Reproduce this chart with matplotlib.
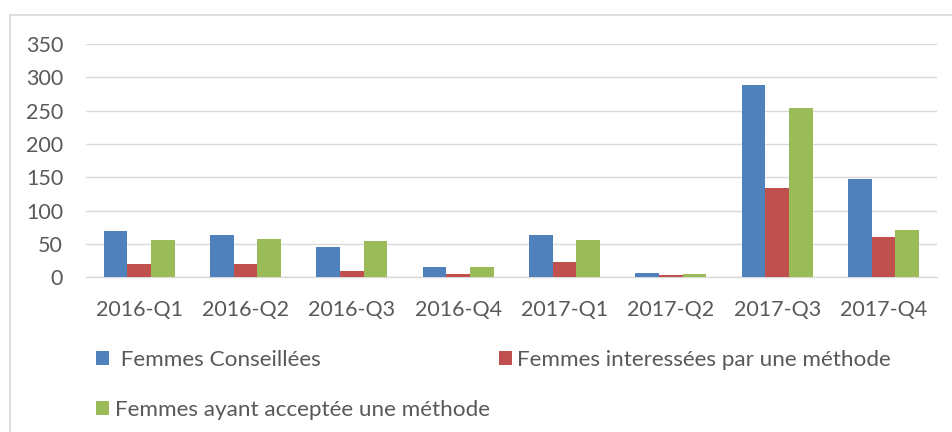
import matplotlib
matplotlib.use("Agg")
import matplotlib.pyplot as plt
import numpy as np
from matplotlib.lines import Line2D

categories = ["2016-Q1", "2016-Q2", "2016-Q3", "2016-Q4", "2017-Q1", "2017-Q2", "2017-Q3", "2017-Q4"]
conseillees = [69, 64, 46, 15, 63, 6, 289, 147]
interessees = [20, 20, 9, 5, 23, 4, 134, 61]
acceptees = [56, 58, 54, 15, 56, 5, 254, 71]
series_names = [" Femmes Conseillées", "Femmes interessées par une méthode", "Femmes ayant acceptée une méthode"]
colors = ["#4F81BD", "#C0504D", "#9BBB59"]
yticks = [0, 50, 100, 150, 200, 250, 300, 350]

plt.rcParams['font.family'] = ['Lato', 'DejaVu Sans']
fig = plt.figure(figsize=(9.52, 4.32), dpi=100)
ax = fig.add_axes([86/952, 1-277.3/432, (936.7-86)/952, (277.3-44)/432])

x = np.arange(len(categories))
w = 0.222
for i, (vals, name, c) in enumerate(zip([conseillees, interessees, acceptees], series_names, colors)):
    ax.bar(x + (i-1)*w, vals, width=w, color=c, label=name, zorder=3)

ax.set_xlim(-0.5, len(categories)-0.5)
ax.set_ylim(0, 350)
ax.set_yticks(yticks)
ax.set_xticks(x)
ax.set_xticklabels(categories)
ax.grid(axis='y', color='#d9d9d9', linewidth=1.0, zorder=0)
for s in ['top', 'right', 'left']:
    ax.spines[s].set_visible(False)
ax.spines['bottom'].set_color('#d9d9d9')
ax.spines['bottom'].set_linewidth(1.0)
ax.tick_params(axis='both', length=0, labelsize=15.5, labelcolor='#595959')
ax.tick_params(axis='y', pad=16.5)
ax.tick_params(axis='x', pad=16)

# chart border (top and left)
fig.add_artist(Line2D([9.5/952, 9.5/952], [0, 1-14.5/432], color='#d9d9d9', linewidth=1.2))
fig.add_artist(Line2D([9.5/952, 1], [1-14.5/432, 1-14.5/432], color='#d9d9d9', linewidth=1.2))

handles, labels = ax.get_legend_handles_labels()
order = [0, 2, 1]
leg = fig.legend([handles[i] for i in order], [labels[i] for i in order], ncol=2, loc='upper left',
                 bbox_to_anchor=(96/952, 1-350/432), borderaxespad=0, borderpad=0,
                 frameon=False, fontsize=16.2, handlelength=0.58, handleheight=0.58,
                 handletextpad=0.25, columnspacing=0.4, labelspacing=1.35, labelcolor='#595959')

fig.savefig("out.png", dpi=100)
